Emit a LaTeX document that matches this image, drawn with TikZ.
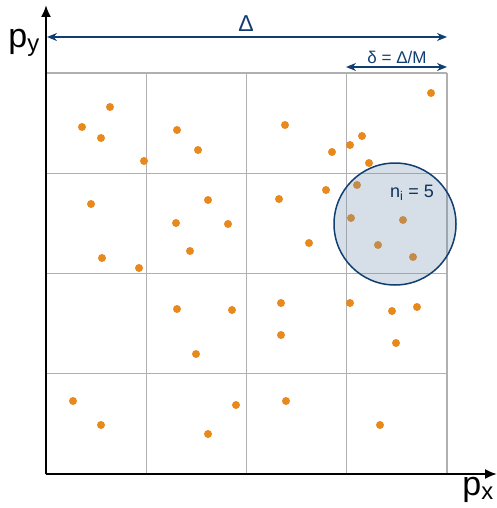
\documentclass[tikz,border=0pt]{standalone}
\usepackage{fontspec}
\setmainfont{Liberation Sans}
\usepackage{xcolor}
\usetikzlibrary{arrows.meta,positioning}

\definecolor{dotorange}{RGB}{232,137,30}
\definecolor{navy}{RGB}{16,62,112}
\definecolor{cellgray}{RGB}{176,176,176}
\definecolor{discfill}{RGB}{118,148,175}

\begin{document}
\begin{tikzpicture}[
		x=1pt,y=-1pt,
		gridline/.style={
			draw=cellgray,
			line width=1.4pt
		},
		axis/.style={
			-{Latex[length=12pt,width=10pt]},
			draw=black,
			line width=2pt
		},
		span/.style={
			{Stealth[length=10pt,width=8pt]}-{Stealth[length=10pt,width=8pt]},
			draw=navy,
			line width=1.5pt
		},
		sample/.style={
			circle,
			fill=dotorange,
			inner sep=0pt,
			minimum size=8pt
		},
		lbl/.style={
			inner sep=0pt
		}
		]
		
		\useasboundingbox (0,0) rectangle (497,508);
		
		% cells
		\foreach \i in {0,...,4} {
			\draw[gridline] (46+100.25*\i,73) -- (46+100.25*\i,474);
			\draw[gridline] (46,73+100.25*\i) -- (447,73+100.25*\i);
		}
		
		% points
		\foreach \px/\py in {110/107,82/127,101/138,144/161,177/130,198/150,
			285/125,332/152,350/145,362/136,369/163,431/93,
			91/204,102/258,139/268,208/200,176/223,228/224,190/251,
			279/199,326/190,309/243,357/185,351/218,403/220,378/245,413/257,
			177/309,232/310,196/354,73/401,101/425,236/405,208/434,
			281/303,281/335,350/303,392/311,417/307,396/343,286/401,380/425}
			\node[sample] at (\px,\py) {};
		
		% neighbourhood
		\node[circle, draw=navy, line width=1.5pt, fill=discfill, fill opacity=0.3,
			minimum size=122pt, inner sep=0pt] (disc) at (395,224) {};
		\node[lbl, font=\fontsize{18}{20}\selectfont, text=navy!80!black] (count) at (412,193) {n\textsubscript{i} = 5};
		
		% axes
		\coordinate (origin) at (46,474);
		\coordinate (xend) at (497,474);
		\coordinate (yend) at (46,5);
		\draw[axis] (origin) -- (xend);
		\draw[axis] (origin) -- (yend);
		\node[lbl, font=\fontsize{34}{36}\selectfont] (xlab) at (478,490) {p\textsubscript{x}};
		\node[lbl, font=\fontsize{34}{36}\selectfont] (ylab) at (24,43) {p\textsubscript{y}};
		
		% extents
		\coordinate (bigL) at (47,37);
		\coordinate (bigR) at (447,37);
		\coordinate (smallL) at (346,67);
		\coordinate (smallR) at (447,67);
		\draw[span] (bigL) -- (bigR);
		\draw[span] (smallL) -- (smallR);
		\node[lbl, font=\fontsize{23}{25}\selectfont, text=navy] (bigD) at (246,24) {Δ};
		\node[lbl, font=\fontsize{17}{19}\selectfont, text=navy] (smallD) at (397,57) {δ = Δ/M};
		
	\end{tikzpicture}
\end{document}
